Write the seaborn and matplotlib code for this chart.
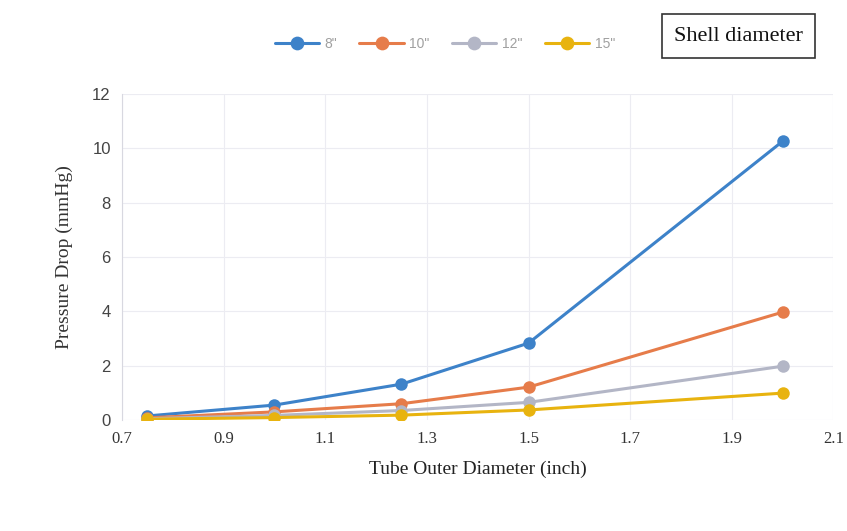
import numpy as np
import pandas as pd
import matplotlib
matplotlib.use("Agg")
import matplotlib.pyplot as plt
import seaborn as sns

# ---- data ----
tube_od = [0.75, 1.0, 1.25, 1.5, 2.0]
shell_labels = ['8"', '10"', '12"', '15"']
dp_8 = [0.15, 0.55, 1.32, 2.83, 10.26]
dp_10 = [0.08, 0.30, 0.60, 1.21, 3.97]
dp_12 = [0.05, 0.17, 0.35, 0.65, 1.98]
dp_15 = [0.03, 0.09, 0.18, 0.37, 0.99]

x_ticks = [0.7, 0.9, 1.1, 1.3, 1.5, 1.7, 1.9, 2.1]
y_ticks = [0, 2, 4, 6, 8, 10, 12]

colors = ["#3d82c9", "#e67c4a", "#b3b6c6", "#e8b30f"]

df = pd.DataFrame({
    "od": tube_od * 4,
    "dp": dp_8 + dp_10 + dp_12 + dp_15,
    "shell": sum([[s] * len(tube_od) for s in shell_labels], []),
})

sns.set_style("white")
plt.rcParams['font.family'] = ['Liberation Serif', 'DejaVu Serif']

fig = plt.figure(figsize=(8.47, 5.31), dpi=100)
ax = fig.add_axes([0.144, 0.209, 0.84, 0.614])

sns.lineplot(data=df, x="od", y="dp", hue="shell", palette=colors,
             marker="o", markersize=9, markeredgewidth=0, linewidth=2.2,
             ax=ax, legend=True)

ax.set_xlim(0.7, 2.1)
ax.set_ylim(0, 12)
ax.set_xticks(x_ticks)
ax.set_xticklabels([f"{v:.1f}" for v in x_ticks], fontsize=12, color="#333333",
                   family="Liberation Serif")
ax.set_yticks(y_ticks)
ax.set_yticklabels([str(v) for v in y_ticks], fontsize=12, color="#444444",
                   family="Liberation Sans")
ax.tick_params(axis="both", length=0, pad=8)
ax.grid(True, color="#ececf2", linewidth=0.8)
for side in ["top", "right", "bottom"]:
    ax.spines[side].set_visible(False)
ax.spines["left"].set_color("#d8d8e0")
ax.spines["left"].set_linewidth(0.8)

ax.set_xlabel("Tube Outer Diameter (inch)", fontsize=14, color="#222222", labelpad=10)
ax.set_ylabel("Pressure Drop (mmHg)", fontsize=14, color="#333333", labelpad=14)

handles, labels = ax.get_legend_handles_labels()
leg = fig.legend(handles, labels, loc="center", bbox_to_anchor=(0.525, 0.918),
                 ncol=4, frameon=False, fontsize=10, handlelength=3.2,
                 columnspacing=1.6, handletextpad=0.4, markerscale=1.1)
for t in leg.get_texts():
    t.set_color("#a0a0a0")
    t.set_family("Liberation Sans")
if ax.get_legend():
    ax.get_legend().remove()

fig.text(0.872, 0.932, "Shell diameter", fontsize=16, ha="center", va="center",
         color="#111111",
         bbox=dict(boxstyle="square,pad=0.55", facecolor="white",
                   edgecolor="#333333", linewidth=1.2))

fig.savefig("out.png", dpi=100)
